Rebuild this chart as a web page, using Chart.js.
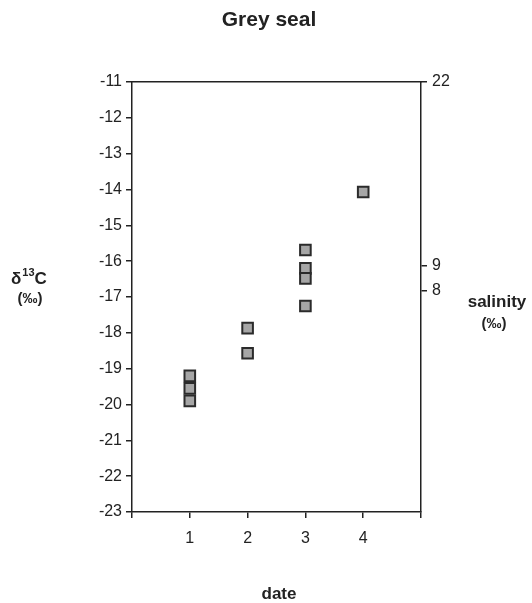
<!DOCTYPE html>
<html>
<head>
<meta charset="utf-8">
<script src="https://cdn.jsdelivr.net/npm/chart.js@4.4.1/dist/chart.umd.min.js"></script>
<style>
  html, body { margin: 0; padding: 0; background: #fff; }
  #wrap { width: 532px; height: 603px; }
</style>
</head>
<body>
<div id="wrap"><canvas id="c" width="532" height="603"></canvas></div>
<script>
// ---- data ----
const dates = [1, 1, 1, 2, 2, 3, 3, 3, 3, 4];
const d13C  = [-19.2, -19.55, -19.9, -17.87, -18.57, -15.69, -16.2, -16.48, -17.25, -14.07];
const xTickLabels = [1, 2, 3, 4];
const salinityLabels    = [22, 9, 8];
const salinityPositions = [-11, -16.13, -16.83]; // position on the δ13C scale

const chartTitle = 'Grey seal';
const xTitle = 'date';
const ink = '#222';
const FONT = '"Liberation Sans", Arial, sans-serif';

const points = dates.map((d, i) => ({ x: d, y: d13C[i] }));

const textPlugin = {
  id: 'texts',
  afterDraw(chart) {
    const ctx = chart.ctx;
    ctx.save();
    ctx.fillStyle = ink;
    ctx.textBaseline = 'middle';
    // title
    ctx.font = 'bold 21px ' + FONT;
    ctx.textAlign = 'center';
    ctx.fillText(chartTitle, 269, 20);
    // x title
    ctx.font = 'bold 17px ' + FONT;
    ctx.fillText(xTitle, 279, 594);
    // left y title: δ13C (‰)
    ctx.textAlign = 'left';
    ctx.font = 'bold 17px ' + FONT;
    let x = 11, y = 279;
    ctx.fillText('δ', x, y);
    x += ctx.measureText('δ').width;
    ctx.font = 'bold 11px ' + FONT;
    ctx.fillText('13', x + 1, y - 6);
    x += ctx.measureText('13').width + 1;
    ctx.font = 'bold 17px ' + FONT;
    ctx.fillText('C', x, y);
    ctx.textAlign = 'center';
    ctx.font = 'bold 15px ' + FONT;
    ctx.fillText('(‰)', 30, 299);
    // right y title
    ctx.font = 'bold 17px ' + FONT;
    ctx.fillText('salinity', 497, 302);
    ctx.font = 'bold 15px ' + FONT;
    ctx.fillText('(‰)', 494, 324);
    ctx.restore();
  }
};

new Chart(document.getElementById('c'), {
  type: 'scatter',
  data: {
    datasets: [{
      data: points,
      pointStyle: 'rect',
      pointRadius: 7.5,
      pointHoverRadius: 7.5,
      pointBackgroundColor: '#a6a6a6',
      pointBorderColor: '#2b2b2b',
      pointBorderWidth: 2
    }]
  },
  options: {
    responsive: false,
    animation: false,
    events: [],
    layout: { padding: { top: 82, left: 0, right: 0, bottom: 0 } },
    plugins: { legend: { display: false }, tooltip: { enabled: false }, title: { display: false } },
    scales: {
      x: {
        type: 'linear', position: 'bottom', min: 0, max: 5,
        afterBuildTicks(s) { s.ticks = [0, ...xTickLabels, 5].map(v => ({ value: v })); },
        afterFit(s) { s.height = 91; },
        ticks: {
          color: ink, font: { family: FONT, size: 16 }, padding: 11, maxRotation: 0, autoSkip: false,
          callback: v => xTickLabels.includes(v) ? String(v) : ''
        },
        grid: { drawOnChartArea: false, drawTicks: true, tickLength: 6, color: ink, lineWidth: 1.5 },
        border: { display: true, color: ink, width: 1.5 }
      },
      xTop: {
        type: 'linear', position: 'top', min: 0, max: 5,
        afterFit(s) { s.height = 0; },
        ticks: { display: false },
        grid: { display: false, drawTicks: false },
        border: { display: true, color: ink, width: 1.5 }
      },
      y: {
        type: 'linear', position: 'left', min: -23, max: -11,
        afterFit(s) { s.width = 132; },
        ticks: { stepSize: 1, color: ink, font: { family: FONT, size: 16 }, padding: 4, autoSkip: false },
        grid: { drawOnChartArea: false, drawTicks: true, tickLength: 6, color: ink, lineWidth: 1.5 },
        border: { display: true, color: ink, width: 1.5 }
      },
      y2: {
        type: 'linear', position: 'right', min: -23, max: -11,
        afterBuildTicks(s) { s.ticks = salinityPositions.map(v => ({ value: v })); },
        afterFit(s) { s.width = 111; },
        ticks: {
          color: ink, font: { family: FONT, size: 16 }, padding: 5, autoSkip: false,
          callback: (v, i) => String(salinityLabels[i])
        },
        grid: { drawOnChartArea: false, drawTicks: true, tickLength: 6, color: ink, lineWidth: 1.5 },
        border: { display: true, color: ink, width: 1.5 }
      }
    }
  },
  plugins: [textPlugin]
});
</script>
</body>
</html>
